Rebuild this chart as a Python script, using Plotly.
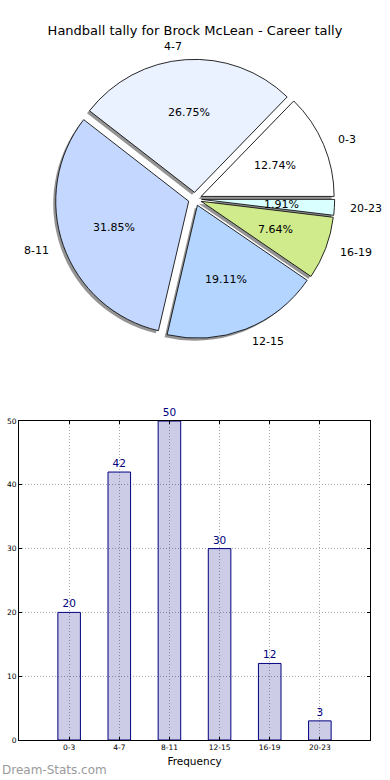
import math
import plotly.graph_objects as go

# ---- data ----
categories = ["0-3", "4-7", "8-11", "12-15", "16-19", "20-23"]
tally = [20, 42, 50, 30, 12, 3]
pie_colors = ["#FFFFFF", "#EAF1FF", "#C4D8FF", "#B3D5FF", "#D0EB8C", "#D9FFFF"]
title_text = "Handball tally for Brock McLean - Career tally"
x_title = "Frequency"
watermark = "Dream-Stats.com"

W, H = 390, 780
PULL = 0.05
FONT = "DejaVu Sans, Verdana, sans-serif"

total = sum(tally)
# plotly: with counterclockwise direction the first slice ends at `rotation`;
# make it start at 3 o'clock like the reference
ROTATION = 90 - 360.0 * tally[0] / total

# pie geometry (pixels)
cx_px, cy_px, r_px = 195.0, 199.0, 133.0
half_box = r_px * (1 + PULL)
pie_dom_x = [(cx_px - half_box) / W, (cx_px + half_box) / W]
pie_dom_y = [1 - (cy_px + half_box) / H, 1 - (cy_px - half_box) / H]
sh_dx, sh_dy = -2.5, 2.5  # shadow offset px (left, down)
sh_dom_x = [v + sh_dx / W for v in pie_dom_x]
sh_dom_y = [v - sh_dy / H for v in pie_dom_y]

fig = go.Figure()

# shadow pie
fig.add_trace(go.Pie(
    values=tally, labels=categories, sort=False, direction="counterclockwise",
    rotation=ROTATION, pull=[PULL] * len(tally), textinfo="none", hoverinfo="skip",
    marker=dict(colors=["rgba(60,60,60,0.55)"] * len(tally), line=dict(width=0)),
    domain=dict(x=sh_dom_x, y=sh_dom_y), showlegend=False,
))
# main pie
fig.add_trace(go.Pie(
    values=tally, labels=categories, sort=False, direction="counterclockwise",
    rotation=ROTATION, pull=[PULL] * len(tally), textinfo="none",
    marker=dict(colors=pie_colors, line=dict(color="#111111", width=0.9)),
    domain=dict(x=pie_dom_x, y=pie_dom_y), showlegend=False,
))

# pie texts (percent at 0.6r, labels at 1.1r, both shifted by explode)
annotations = []
start = 0.0
for cat, v in zip(categories, tally):
    ang = start + 360.0 * v / total / 2
    start += 360.0 * v / total
    a = math.radians(ang)
    for dist, txt, is_label in [(0.6 + PULL, f"{100 * v / total:.2f}%", False),
                                 (1.1 + PULL, cat, True)]:
        px = cx_px + dist * r_px * math.cos(a)
        py = cy_px - dist * r_px * math.sin(a)
        if is_label:
            xanchor = "left" if math.cos(a) > 0 else "right"
        else:
            xanchor = "center"
        annotations.append(dict(
            x=px / W, y=1 - py / H, xref="paper", yref="paper", text=txt,
            showarrow=False, xanchor=xanchor, yanchor="middle",
            font=dict(family=FONT, size=11, color="#000000"),
        ))

# watermark
annotations.append(dict(
    x=0.0, y=1 - 770 / H, xref="paper", yref="paper", text=watermark,
    showarrow=False, xanchor="left", yanchor="middle",
    font=dict(family=FONT, size=12, color="#9a9a9a"),
))

# bar chart
positions = list(range(1, len(categories) + 1))
fig.add_trace(go.Bar(
    x=positions, y=tally, width=0.45, xaxis="x", yaxis="y",
    marker=dict(color="rgba(0,0,128,0.2)", line=dict(color="#000080", width=1)),
    text=[str(v) for v in tally], textposition="outside", cliponaxis=False,
    textfont=dict(family=FONT, size=10.5, color="#000080"),
    showlegend=False, hoverinfo="x+y",
))

grid = dict(showgrid=True, gridcolor="#a8a8a8", gridwidth=1, griddash="1px,2px")
fig.update_layout(
    width=W, height=H,
    margin=dict(l=0, r=0, t=0, b=0, autoexpand=False),
    paper_bgcolor="white", plot_bgcolor="white",
    title=dict(text=title_text, x=0.5, xanchor="center", y=1 - 30 / H,
               yanchor="middle", font=dict(family=FONT, size=13, color="#000000")),
    xaxis=dict(domain=[19 / W, 370 / W], range=[0, 7], automargin=False,
               tickmode="array", tickvals=positions, ticktext=categories,
               tickfont=dict(family=FONT, size=7.5, color="#000000"),
               ticks="inside", ticklen=3, tickcolor="#000000",
               showline=True, linecolor="#000000", linewidth=1, mirror="ticks",
               zeroline=False,
               title=dict(text=x_title, standoff=6,
                          font=dict(family=FONT, size=10.5, color="#000000")),
               **grid),
    yaxis=dict(domain=[1 - 740 / H, 1 - 421 / H], range=[0, 50], automargin=False,
               tickvals=[0, 10, 20, 30, 40, 50],
               tickfont=dict(family=FONT, size=7.5, color="#000000"),
               ticks="inside", ticklen=3, tickcolor="#000000",
               showline=True, linecolor="#000000", linewidth=1, mirror="ticks",
               zeroline=False, **grid),
    annotations=annotations,
    bargap=0.2,
)

fig.write_html(
    "out.html",
    config={"staticPlot": True, "displayModeBar": False},
    post_script=(
        "document.documentElement.style.margin='0';"
        "document.documentElement.style.overflow='hidden';"
        "document.body.style.margin='0';document.body.style.overflow='hidden';"
    ),
)
